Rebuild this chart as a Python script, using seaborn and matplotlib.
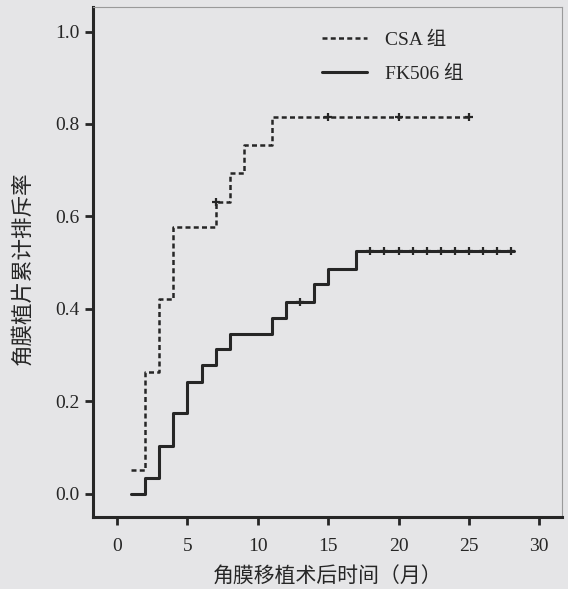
import numpy as np
import pandas as pd
import matplotlib
matplotlib.use('Agg')
import matplotlib.pyplot as plt
import seaborn as sns

# datos (tiempo en meses, tasa acumulada de rechazo)
csa_t = [1, 2, 3, 4, 7, 8, 9, 11, 25]
csa_y = [0.052, 0.264, 0.422, 0.577, 0.632, 0.693, 0.754, 0.816, 0.816]
csa_cens_t = [7, 15, 20, 25]
csa_cens_y = [0.632, 0.816, 0.816, 0.816]

fk_t = [1, 2, 3, 4, 5, 6, 7, 8, 11, 12, 14, 15, 17, 28.2]
fk_y = [0.0, 0.033, 0.103, 0.174, 0.242, 0.278, 0.312, 0.345, 0.381, 0.415,
        0.453, 0.487, 0.526, 0.526]
fk_cens_t = [13, 18, 19, 20, 21, 22, 23, 24, 25, 26, 27, 28]
fk_cens_y = [0.415] + [0.526] * 11

xticks = [0, 5, 10, 15, 20, 25, 30]
yticks = [0.0, 0.2, 0.4, 0.6, 0.8, 1.0]

sns.set_style('ticks')
plt.rcParams['font.family'] = ['Liberation Serif', 'Noto Sans CJK SC', 'DejaVu Sans']

bg = '#e5e5e7'
ink = '#262626'

fig = plt.figure(figsize=(5.68, 5.89), dpi=100, facecolor=bg)
ax = fig.add_axes([0.164, 0.122, 0.825, 0.866])
ax.set_facecolor(bg)

csa = pd.DataFrame({'t': csa_t, 'y': csa_y})
fk = pd.DataFrame({'t': fk_t, 'y': fk_y})

sns.lineplot(data=csa, x='t', y='y', ax=ax, drawstyle='steps-post', color=ink,
             linewidth=1.8, dashes=False, linestyle=(0, (2.0, 1.3)), label='CSA 组')
sns.lineplot(data=fk, x='t', y='y', ax=ax, drawstyle='steps-post', color=ink,
             linewidth=2.2, label='FK506 组')

sns.scatterplot(x=csa_cens_t, y=csa_cens_y, ax=ax, marker='+', s=30,
                linewidth=1.6, color=ink, legend=False)
sns.scatterplot(x=fk_cens_t, y=fk_cens_y, ax=ax, marker='+', s=30,
                linewidth=1.6, color=ink, legend=False)

ax.set_xlim(-1.7, 31.6)
ax.set_ylim(-0.051, 1.053)
ax.set_xticks(xticks)
ax.set_yticks(yticks)
ax.set_yticklabels([f'{v:.1f}' for v in yticks])

ax.set_xlabel('角膜移植术后时间（月）', fontsize=15, color=ink,
              family=['Noto Sans CJK SC', 'DejaVu Sans'])
ax.set_ylabel('角膜植片累计排斥率', fontsize=15.5, color=ink,
              family=['Noto Sans CJK SC', 'DejaVu Sans'])
ax.xaxis.set_label_coords(0.5, -0.096)
ax.yaxis.set_label_coords(-0.128, 0.488)

ax.tick_params(axis='both', direction='out', length=6, width=2, colors=ink,
               labelsize=14)
ax.tick_params(axis='x', pad=9)
ax.tick_params(axis='y', pad=4)

for s in ['left', 'bottom']:
    ax.spines[s].set_linewidth(2.2)
    ax.spines[s].set_color(ink)
for s in ['top', 'right']:
    ax.spines[s].set_linewidth(0.8)
    ax.spines[s].set_color('#9a9a9a')

leg = ax.legend(loc='upper left', bbox_to_anchor=(0.488, 0.952), frameon=False,
                fontsize=14, handlelength=2.3, handletextpad=0.95,
                labelspacing=0.85, borderpad=0, borderaxespad=0)
for t in leg.get_texts():
    t.set_color(ink)

plt.savefig('out.png', dpi=100, facecolor=bg)
